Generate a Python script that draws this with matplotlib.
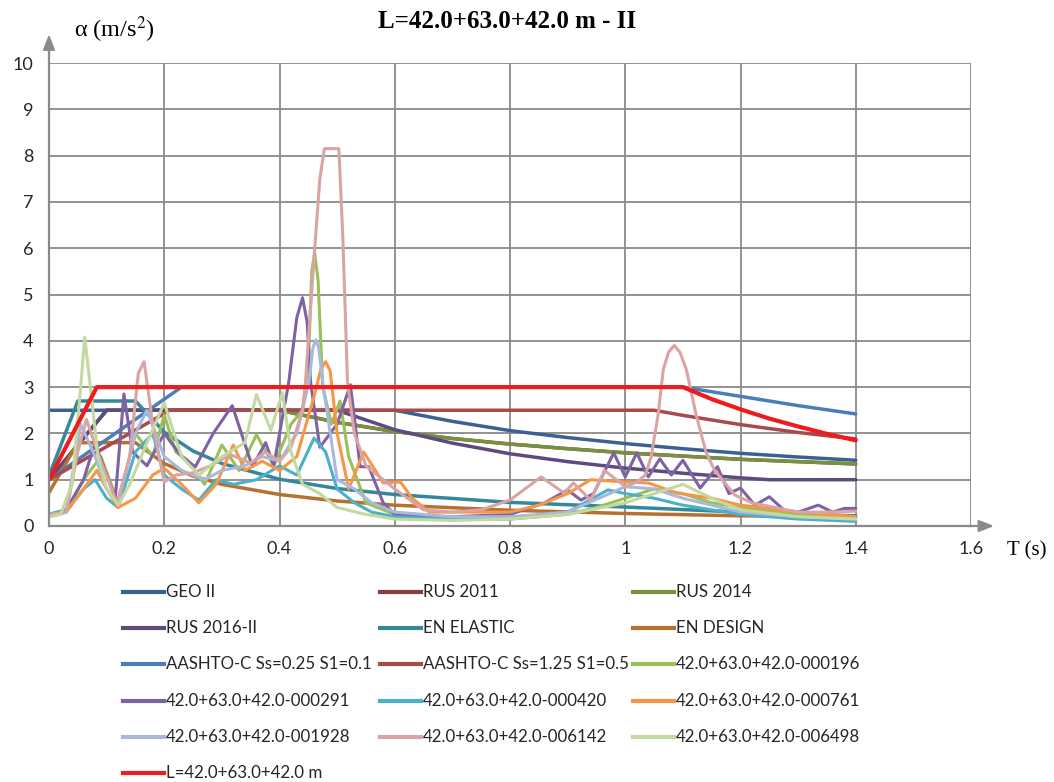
import matplotlib.pyplot as plt
from matplotlib.lines import Line2D

plt.rcParams['font.family'] = ['Lato', 'DejaVu Sans']
plt.rcParams['mathtext.fontset'] = 'stix'

# design spectra (T in s, alpha in m/s2)
t_geo = [0, 0.6, 0.7, 0.8, 0.9, 1.0, 1.1, 1.2, 1.3, 1.4]
a_geo = [2.5, 2.5, 2.26, 2.06, 1.91, 1.78, 1.67, 1.57, 1.49, 1.42]

t_rus11 = [0, 0.1, 0.4, 0.5, 0.6, 0.7, 0.8, 0.9, 1.0, 1.1, 1.2, 1.3, 1.4]
a_rus11 = [1.0, 2.5, 2.5, 2.24, 2.04, 1.89, 1.77, 1.67, 1.58, 1.51, 1.44, 1.39, 1.34]

t_rus14 = [0, 0.1, 0.4, 0.5, 0.6, 0.7, 0.8, 0.9, 1.0, 1.1, 1.2, 1.3, 1.4]
a_rus14 = [1.0, 2.5, 2.5, 2.24, 2.04, 1.89, 1.77, 1.67, 1.58, 1.51, 1.44, 1.39, 1.34]

t_rus16 = [0, 0.1, 0.5, 0.6, 0.7, 0.8, 0.9, 1.0, 1.1, 1.2, 1.25, 1.4]
a_rus16 = [1.0, 2.5, 2.5, 2.08, 1.79, 1.56, 1.39, 1.25, 1.14, 1.04, 1.0, 1.0]

t_en_el = [0, 0.05, 0.15, 0.2, 0.25, 0.3, 0.4, 0.5, 0.6, 0.8, 1.0, 1.2, 1.4]
a_en_el = [1.08, 2.7, 2.7, 2.03, 1.62, 1.35, 1.01, 0.81, 0.68, 0.51, 0.41, 0.3, 0.22]

t_en_d = [0, 0.05, 0.15, 0.2, 0.25, 0.3, 0.4, 0.5, 0.6, 0.8, 1.0, 1.2, 1.4]
a_en_d = [0.72, 1.8, 1.8, 1.35, 1.08, 0.9, 0.68, 0.54, 0.45, 0.34, 0.27, 0.22, 0.2]

t_aa1 = [0, 0.23, 1.1, 1.2, 1.3, 1.4]
a_aa1 = [1.0, 3.0, 3.0, 2.8, 2.6, 2.42]

t_aa2 = [0, 0.21, 1.05, 1.1, 1.2, 1.3, 1.4]
a_aa2 = [1.0, 2.5, 2.5, 2.39, 2.19, 2.02, 1.88]

# record spectra
t_196 = [0, 0.03, 0.06, 0.09, 0.12, 0.15, 0.18, 0.2, 0.22, 0.24, 0.27, 0.3, 0.33, 0.36, 0.39,
         0.42, 0.44, 0.45, 0.456, 0.461, 0.467, 0.475, 0.49, 0.505, 0.52, 0.55, 0.6, 0.7, 0.8,
         0.9, 0.95, 1.0, 1.05, 1.1, 1.15, 1.2, 1.3, 1.4]
a_196 = [0.25, 0.35, 1.0, 1.5, 0.5, 2.0, 1.5, 2.4, 1.6, 1.43, 0.9, 1.75, 1.2, 1.97, 1.3,
         2.2, 2.5, 3.5, 5.5, 5.9, 5.3, 3.0, 2.2, 2.7, 1.5, 0.5, 0.25, 0.15, 0.15,
         0.25, 0.4, 0.6, 0.8, 0.7, 0.5, 0.4, 0.25, 0.2]

t_291 = [0, 0.03, 0.06, 0.08, 0.1, 0.115, 0.13, 0.145, 0.17, 0.2, 0.23, 0.254, 0.285, 0.318,
         0.353, 0.376, 0.39, 0.416, 0.43, 0.44, 0.448, 0.454, 0.47, 0.5, 0.523, 0.54, 0.555,
         0.58, 0.6, 0.65, 0.7, 0.8, 0.86, 0.9, 0.923, 0.945, 0.98, 1.0, 1.02, 1.04, 1.06, 1.08,
         1.1, 1.13, 1.16, 1.18, 1.2, 1.225, 1.25, 1.275, 1.3, 1.335, 1.36, 1.38, 1.4]
a_291 = [0.25, 0.35, 1.0, 1.8, 1.1, 0.6, 2.85, 1.6, 1.3, 2.0, 1.5, 1.28, 2.0, 2.6,
         1.28, 1.8, 1.3, 3.1, 4.5, 4.93, 4.4, 3.1, 1.7, 2.2, 3.05, 1.28, 1.28,
         0.5, 0.25, 0.2, 0.2, 0.25, 0.5, 0.78, 0.56, 0.7, 1.58, 1.06, 1.58, 1.06, 1.45, 1.1,
         1.42, 0.82, 1.28, 0.7, 0.82, 0.45, 0.63, 0.35, 0.3, 0.45, 0.3, 0.38, 0.38]

t_420 = [0, 0.03, 0.06, 0.08, 0.1, 0.12, 0.15, 0.18, 0.2, 0.23, 0.26, 0.29, 0.32, 0.36, 0.4,
         0.43, 0.46, 0.48, 0.5, 0.53, 0.56, 0.6, 0.7, 0.8, 0.9, 0.97, 1.0, 1.05, 1.1, 1.2, 1.3, 1.4]
a_420 = [0.25, 0.35, 0.8, 1.0, 0.6, 0.4, 1.6, 2.0, 1.1, 0.8, 0.56, 1.0, 0.9, 1.0, 1.3,
         1.1, 1.9, 1.6, 0.8, 0.5, 0.3, 0.2, 0.15, 0.15, 0.3, 0.78, 0.7, 0.6, 0.45, 0.25, 0.15, 0.1]

t_761 = [0, 0.03, 0.06, 0.083, 0.1, 0.12, 0.15, 0.18, 0.2, 0.23, 0.26, 0.29, 0.32, 0.34, 0.37,
         0.4, 0.43, 0.46, 0.472, 0.48, 0.488, 0.5, 0.52, 0.546, 0.58, 0.61, 0.63, 0.66, 0.7, 0.8,
         0.85, 0.9, 0.94, 1.0, 1.04, 1.09, 1.15, 1.2, 1.3, 1.4]
a_761 = [0.2, 0.3, 0.8, 1.2, 0.8, 0.4, 0.6, 1.1, 1.25, 0.9, 0.5, 0.9, 1.75, 1.2, 1.4,
         1.2, 1.5, 2.8, 3.4, 3.55, 3.35, 2.0, 0.8, 1.6, 0.93, 0.95, 0.6, 0.3, 0.3, 0.3,
         0.45, 0.7, 1.0, 0.95, 0.93, 0.71, 0.6, 0.45, 0.3, 0.2]

t_1928 = [0, 0.03, 0.055, 0.08, 0.1, 0.12, 0.15, 0.17, 0.2, 0.23, 0.27, 0.3, 0.34, 0.37, 0.4,
          0.43, 0.451, 0.458, 0.463, 0.468, 0.475, 0.5, 0.53, 0.56, 0.6, 0.7, 0.8, 0.9, 1.0,
          1.05, 1.1, 1.2, 1.3, 1.4]
a_1928 = [0.2, 0.3, 2.2, 1.5, 0.8, 0.5, 2.0, 2.5, 1.5, 1.2, 1.0, 1.2, 1.3, 1.5, 1.4,
          2.0, 3.1, 3.85, 4.02, 3.85, 3.1, 1.0, 0.8, 0.5, 0.3, 0.2, 0.2, 0.3, 0.85,
          0.8, 0.6, 0.3, 0.2, 0.15]

t_6142 = [0, 0.03, 0.05, 0.065, 0.09, 0.118, 0.14, 0.155, 0.165, 0.18, 0.2, 0.22, 0.25, 0.28,
          0.315, 0.35, 0.375, 0.4, 0.42, 0.44, 0.445, 0.46, 0.47, 0.478, 0.503, 0.51, 0.518,
          0.53, 0.55, 0.6, 0.65, 0.7, 0.75, 0.8, 0.854, 0.894, 0.91, 0.94, 0.964, 1.0, 1.02,
          1.035, 1.045, 1.057, 1.066, 1.075, 1.085, 1.095, 1.106, 1.123, 1.14, 1.155, 1.19,
          1.22, 1.26, 1.3, 1.35, 1.4]
a_6142 = [0.25, 0.3, 1.6, 2.3, 1.4, 0.5, 1.5, 3.3, 3.55, 2.2, 0.95, 1.1, 1.15, 1.3,
          1.54, 1.36, 1.6, 1.4, 1.7, 2.5, 3.1, 5.8, 7.5, 8.15, 8.15, 6.2, 3.1,
          2.0, 1.3, 0.8, 0.35, 0.3, 0.35, 0.56, 1.06, 0.71, 0.93, 0.56, 1.2, 0.85, 0.95,
          1.1, 1.5, 2.4, 3.38, 3.75, 3.9, 3.75, 3.38, 2.4, 1.6, 1.2, 0.67,
          0.5, 0.4, 0.3, 0.3, 0.32]

t_6498 = [0, 0.02, 0.04, 0.055, 0.062, 0.07, 0.085, 0.1, 0.12, 0.14, 0.17, 0.2, 0.23, 0.26,
          0.3, 0.34, 0.36, 0.385, 0.405, 0.42, 0.44, 0.47, 0.5, 0.55, 0.6, 0.7, 0.8, 0.9, 1.0,
          1.05, 1.1, 1.15, 1.2, 1.3, 1.4]
a_6498 = [0.2, 0.25, 0.9, 3.0, 4.08, 3.2, 1.5, 0.8, 0.45, 0.9, 1.8, 2.66, 1.5, 1.1,
          1.5, 1.8, 2.84, 2.07, 2.88, 1.6, 0.9, 0.7, 0.4, 0.25, 0.15, 0.12, 0.15, 0.25, 0.5,
          0.7, 0.9, 0.6, 0.35, 0.2, 0.15]

t_l = [0, 0.083, 1.1, 1.15, 1.2, 1.25, 1.3, 1.35, 1.4]
a_l = [1.0, 3.0, 3.0, 2.74, 2.52, 2.32, 2.15, 1.99, 1.85]

names = ['GEO II', 'RUS 2011', 'RUS 2014', 'RUS 2016-II', 'EN ELASTIC', 'EN DESIGN',
         'AASHTO-C Ss=0.25 S1=0.1', 'AASHTO-C Ss=1.25 S1=0.5',
         '42.0+63.0+42.0-000196', '42.0+63.0+42.0-000291', '42.0+63.0+42.0-000420',
         '42.0+63.0+42.0-000761', '42.0+63.0+42.0-001928', '42.0+63.0+42.0-006142',
         '42.0+63.0+42.0-006498', 'L=42.0+63.0+42.0 m']
series = [(t_geo, a_geo), (t_rus11, a_rus11), (t_rus14, a_rus14), (t_rus16, a_rus16),
          (t_en_el, a_en_el), (t_en_d, a_en_d), (t_aa1, a_aa1), (t_aa2, a_aa2),
          (t_196, a_196), (t_291, a_291), (t_420, a_420), (t_761, a_761),
          (t_1928, a_1928), (t_6142, a_6142), (t_6498, a_6498), (t_l, a_l)]
colors = ['#3b6193', '#8f3b39', '#76913f', '#5e4a7d', '#35879c', '#b8702f',
          '#4a7ebb', '#a8494b', '#9bc057', '#7e62a5', '#4bb0c8', '#f79646',
          '#a7b9dc', '#dba4a4', '#c4d9a0', '#ee1c1c']
widths = [2.5] * 8 + [2.2] * 7 + [3.0]

fig = plt.figure(figsize=(10.54, 7.82), dpi=100)
ax = fig.add_axes([49 / 1054, 1 - 526 / 782, 922 / 1054, 463 / 782])

for (t, a), c, w in zip(series, colors, widths):
    ax.plot(t, a, color=c, lw=w, solid_joinstyle='round', solid_capstyle='round')

ax.set_xlim(0, 1.6)
ax.set_ylim(0, 10)
ax.set_xticks([0, 0.2, 0.4, 0.6, 0.8, 1.0, 1.2, 1.4, 1.6])
ax.set_xticklabels(['0', '0.2', '0.4', '0.6', '0.8', '1', '1.2', '1.4', '1.6'])
ax.set_yticks(range(11))
ax.grid(True, color='#8a8a8a', lw=1.3)
ax.set_axisbelow(True)
ax.tick_params(length=0, labelsize=13, pad=11, colors='#262626')
for s in ['top', 'right']:
    ax.spines[s].set_visible(False)
for s in ['left', 'bottom']:
    ax.spines[s].set_color('#8a8a8a')
    ax.spines[s].set_linewidth(1.6)

# axis arrows
arr = dict(arrowstyle='-|>,head_length=0.9,head_width=0.35', color='#8a8a8a', lw=1.6)
ax.annotate('', xy=(0, 10.68), xytext=(0, 9.9), arrowprops=arr, annotation_clip=False)
ax.annotate('', xy=(1.645, 0), xytext=(1.59, 0), arrowprops=arr, annotation_clip=False)

serif = ['Liberation Serif', 'DejaVu Serif']
fig.text(507 / 1054, 1 - 22 / 782, 'L=42.0+63.0+42.0 m - II', ha='center', va='center',
         fontsize=18, fontweight='bold', family=serif)
fig.text(74 / 1054, 1 - 30 / 782, r'α (m/s$^2$)', ha='left', va='center', fontsize=17.5,
         family=serif)
fig.text(1007 / 1054, 1 - 551 / 782, 'T (s)', ha='left', va='center', fontsize=15,
         family=serif)

# legend laid out row by row, three entries per row
col_x = [123, 380, 633]
row_y0, row_dy = 592, 36.2
for i, (name, c) in enumerate(zip(names, colors)):
    r, k = divmod(i, 3)
    x0 = col_x[k]
    y = 1 - (row_y0 + r * row_dy) / 782
    fig.add_artist(Line2D([x0 / 1054, (x0 + 41) / 1054], [y, y], color=c, lw=3.0,
                          transform=fig.transFigure))
    fig.text((x0 + 43) / 1054, y, name, ha='left', va='center', fontsize=12.2,
             color='#262626')

fig.savefig('out.png', dpi=100)
